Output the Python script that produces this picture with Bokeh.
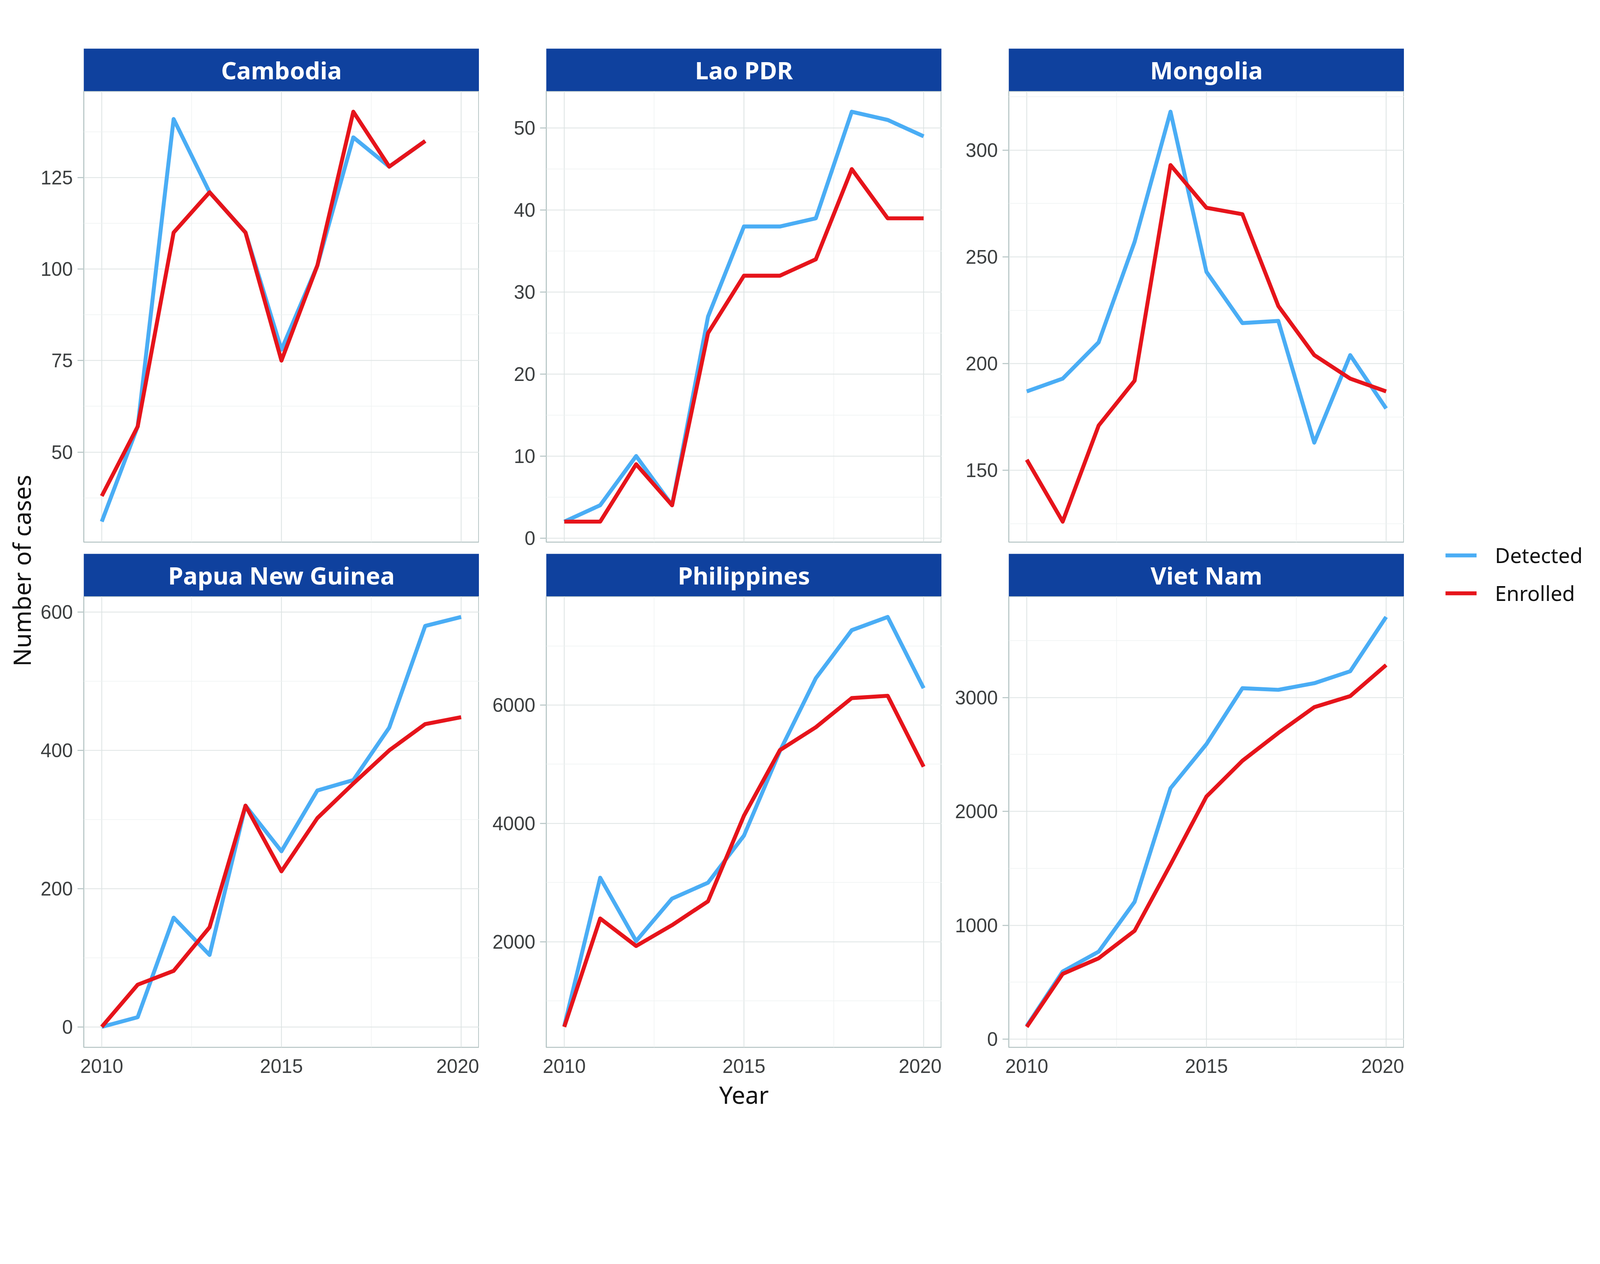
import math
from bokeh.plotting import figure
from bokeh.layouts import row, column
from bokeh.models import Range1d, FixedTicker, Legend, LegendItem, Label
from bokeh.core.properties import value
from bokeh.embed import file_html
from bokeh.resources import INLINE

# ---------------- data ----------------
years = [2010, 2011, 2012, 2013, 2014, 2015, 2016, 2017, 2018, 2019, 2020]
countries = ["Cambodia", "Lao PDR", "Mongolia", "Papua New Guinea", "Philippines", "Viet Nam"]
series_names = ["Detected", "Enrolled"]

cambodia_detected = [31, 57, 141, 121, 110, 78, 101, 136, 128, 135]
cambodia_enrolled = [38, 57, 110, 121, 110, 75, 101, 143, 128, 135]
lao_detected = [2, 4, 10, 4, 27, 38, 38, 39, 52, 51, 49]
lao_enrolled = [2, 2, 9, 4, 25, 32, 32, 34, 45, 39, 39]
mongolia_detected = [187, 193, 210, 257, 318, 243, 219, 220, 163, 204, 179]
mongolia_enrolled = [155, 126, 171, 192, 293, 273, 270, 227, 204, 193, 187]
png_detected = [0, 14, 158, 104, 320, 254, 342, 357, 433, 580, 593]
png_enrolled = [0, 61, 81, 144, 320, 225, 302, 352, 400, 438, 448]
philippines_detected = [572, 3081, 2010, 2728, 2997, 3793, 5222, 6454, 7266, 7490, 6286]
philippines_enrolled = [560, 2392, 1927, 2280, 2683, 4129, 5238, 5625, 6118, 6157, 4958]
vietnam_detected = [116, 594, 768, 1205, 2203, 2590, 3081, 3067, 3125, 3230, 3707]
vietnam_enrolled = [108, 573, 710, 951, 1533, 2130, 2444, 2688, 2915, 3012, 3285]

x_major_ticks = [2010, 2015, 2020]
x_minor_ticks = [2012.5, 2017.5]
cambodia_ticks = [50, 75, 100, 125]
cambodia_minor = [37.5, 62.5, 87.5, 112.5, 137.5]
lao_ticks = [0, 10, 20, 30, 40, 50]
lao_minor = [5, 15, 25, 35, 45]
mongolia_ticks = [150, 200, 250, 300]
mongolia_minor = [125, 175, 225, 275, 325]
png_ticks = [0, 200, 400, 600]
png_minor = [100, 300, 500]
philippines_ticks = [2000, 4000, 6000]
philippines_minor = [1000, 3000, 5000, 7000]
vietnam_ticks = [0, 1000, 2000, 3000]
vietnam_minor = [500, 1500, 2500, 3500]

panel_data = [
    (cambodia_detected, cambodia_enrolled, cambodia_ticks, cambodia_minor),
    (lao_detected, lao_enrolled, lao_ticks, lao_minor),
    (mongolia_detected, mongolia_enrolled, mongolia_ticks, mongolia_minor),
    (png_detected, png_enrolled, png_ticks, png_minor),
    (philippines_detected, philippines_enrolled, philippines_ticks, philippines_minor),
    (vietnam_detected, vietnam_enrolled, vietnam_ticks, vietnam_minor),
]

# ---------------- style ----------------
BLUE = "#4AADF5"
RED = "#E6141B"
HEADER = "#0F419E"
BORDER = "#B4C3C3"
GRID_MAJOR = "#DEE4E4"
GRID_MINOR = "#EDF1F1"
TICK_TEXT = "#3C3F40"
DARK = "#111111"

S = 0.8829   # css px per screenshot px


def fs(v):
    return f"{v * S:.1f}px"


LW = 11.5 * S

FW = 1012          # frame width
FH = 1154          # frame height
HH = 109           # strip height
TOP = 124          # top empty band
GAP = 30           # gap between rows
BOTTOM = 200       # bottom axis band
YLAB_W = 99
LEG_W = 484
TOTAL_H = TOP + HH + FH + GAP + HH + FH + BOTTOM


def left_border(col):
    return 115 if col == 0 else 172


def expand(vals, frac=0.05):
    lo, hi = min(vals), max(vals)
    pad = (hi - lo) * frac
    return lo - pad, hi + pad


def make_header(name, col, r):
    L = left_border(col)
    top = TOP if r == 0 else 0
    h = figure(width=L + FW, height=HH + top, x_range=Range1d(0, 1), y_range=Range1d(0, 1),
               x_axis_location=None, y_axis_location=None, title=None,
               min_border_left=L, min_border_right=0, min_border_top=top, min_border_bottom=0,
               output_backend="svg", toolbar_location=None)
    h.grid.visible = False
    h.background_fill_color = HEADER
    h.border_fill_color = "white"
    h.outline_line_color = None
    h.text(x=[0.5], y=[0.5], text=[name], text_align="center", text_baseline="middle",
           text_color="white", text_font=value("Noto Sans"), text_font_size=fs(70),
           text_font_style="bold")
    return h


def make_panel(idx, col, r):
    det, enr, ticks, minor = panel_data[idx]
    L = left_border(col)
    bottom = GAP if r == 0 else BOTTOM
    xlo, xhi = expand(years)
    ylo, yhi = expand(det + enr)
    p = figure(width=L + FW, height=FH + bottom,
               x_range=Range1d(xlo, xhi), y_range=Range1d(ylo, yhi), title=None,
               min_border_left=L, min_border_right=0, min_border_top=0, min_border_bottom=bottom,
               output_backend="svg", toolbar_location=None)
    p.background_fill_color = "white"
    p.border_fill_color = "white"
    p.outline_line_color = BORDER
    p.outline_line_width = 3 * S

    xt = FixedTicker(ticks=x_major_ticks, minor_ticks=x_minor_ticks)
    yt = FixedTicker(ticks=ticks, minor_ticks=minor)
    p.xaxis.ticker = xt
    p.yaxis.ticker = yt
    p.xgrid.ticker = xt
    p.ygrid.ticker = yt
    for g in (p.xgrid, p.ygrid):
        g.grid_line_color = GRID_MAJOR
        g.grid_line_width = 2.5 * S
        g.minor_grid_line_color = GRID_MINOR
        g.minor_grid_line_width = 1.6 * S

    ya = p.yaxis[0]
    ya.axis_line_color = None
    ya.major_tick_out = 16
    ya.major_tick_in = 0
    ya.minor_tick_out = 0
    ya.minor_tick_in = 0
    ya.major_tick_line_color = BORDER
    ya.major_tick_line_width = 3 * S
    ya.major_label_text_font = "Liberation Sans"
    ya.major_label_text_font_size = fs(56)
    ya.major_label_text_color = TICK_TEXT
    ya.major_label_standoff = 12

    xa = p.xaxis[0]
    if r == 0:
        xa.visible = False
    else:
        xa.axis_line_color = None
        xa.major_tick_out = 0
        xa.major_tick_in = 0
        xa.minor_tick_out = 0
        xa.minor_tick_in = 0
        xa.major_label_text_font = "Liberation Sans"
        xa.major_label_text_font_size = fs(56)
        xa.major_label_text_color = TICK_TEXT
        xa.major_label_standoff = 30
        if col == 1:
            xa.axis_label = "Year"
            xa.axis_label_text_font = "Noto Sans"
            xa.axis_label_text_font_size = fs(70)
            xa.axis_label_text_font_style = "normal"
            xa.axis_label_text_color = DARK
            xa.axis_label_standoff = 10

    p.line(years[:len(det)], det, line_color=BLUE, line_width=LW, line_join="round")
    p.line(years[:len(enr)], enr, line_color=RED, line_width=LW, line_join="round")
    return p


columns = []
for col in range(3):
    items = []
    for r in range(2):
        idx = r * 3 + col
        items.append(make_header(countries[idx], col, r))
        items.append(make_panel(idx, col, r))
    columns.append(column(*items, spacing=0))

# y-axis title strip
ylab = figure(width=YLAB_W, height=TOTAL_H, x_range=Range1d(0, 1), y_range=Range1d(0, 1),
              x_axis_location=None, y_axis_location=None, title=None,
              min_border=0, output_backend="svg", toolbar_location=None)
ylab.grid.visible = False
ylab.outline_line_color = None
ylab.add_layout(Label(x=54, y=TOTAL_H - 1460, x_units="screen", y_units="screen",
                      text="Number of cases", angle=math.pi / 2, text_align="center",
                      text_baseline="middle", text_font="Noto Sans",
                      text_font_size=fs(70), text_color=DARK))

# legend strip (key lines use series data that lies outside this strip's ranges)
lg = figure(width=LEG_W, height=TOTAL_H, x_range=Range1d(0, 1), y_range=Range1d(0, 1),
            x_axis_location=None, y_axis_location=None, title=None,
            min_border=0, output_backend="svg", toolbar_location=None)
lg.grid.visible = False
lg.outline_line_color = None
r1 = lg.line(years, vietnam_detected, line_color=BLUE, line_width=LW)
r2 = lg.line(years, vietnam_enrolled, line_color=RED, line_width=LW)
legend = Legend(items=[LegendItem(label=series_names[0], renderers=[r1]),
                       LegendItem(label=series_names[1], renderers=[r2])],
                location=(106, TOTAL_H - 1554), orientation="vertical",
                glyph_width=80, glyph_height=70, label_height=70, spacing=24,
                padding=0, margin=0, border_line_color=None, background_fill_alpha=0,
                label_standoff=47, label_text_font="Noto Sans", label_text_font_size=fs(60),
                label_text_color=DARK)
lg.add_layout(legend, "center")

layout = row(ylab, *columns, lg, spacing=0)

open("out.html", "w").write(file_html(layout, INLINE))
